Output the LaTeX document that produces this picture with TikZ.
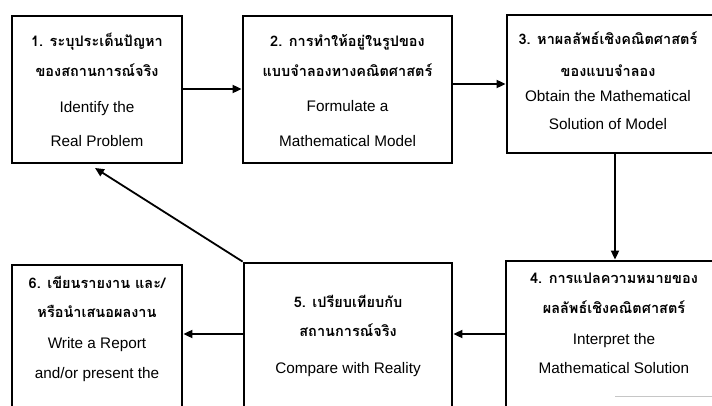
\documentclass[tikz,border=0pt]{standalone}
\usepackage{fontspec}
\setmainfont{Liberation Sans}
\newfontfamily\thaifont[Script=Thai]{Loma}
\usetikzlibrary{arrows.meta}

\begin{document}
\begin{tikzpicture}[x=1pt,y=-1pt,
  stage/.style={draw, line width=2.8pt, rectangle, inner sep=0pt},
  th/.style={anchor=base, inner sep=0pt, font=\thaifont\bfseries\fontsize{14.5}{16}\selectfont},
  en/.style={anchor=base, inner sep=0pt, font=\fontsize{15.3}{17}\selectfont},
  flow/.style={line width=1.8pt, -{Triangle[length=9pt,width=8pt]}}]
\useasboundingbox (0,0) rectangle (712,406);
\clip (0,0) rectangle (712,406);

% the six stages of the modelling cycle
\node[stage, minimum width=170, minimum height=147] (b1) at (97,89.5) {};
\node[stage, minimum width=209, minimum height=147] (b2) at (347.5,89.5) {};
\node[stage, minimum width=209, minimum height=138] (b3) at (611.5,84) {};
\node[stage, minimum width=214, minimum height=169] (b4) at (613,345.5) {};
\node[stage, minimum width=208, minimum height=167] (b5) at (348,346.5) {};
\node[stage, minimum width=170, minimum height=165] (b6) at (97,347.5) {};

% stage 1
\node[th] (l1a) at (97,47) {1. ระบุประเด็นปัญหา};
\node[th] (l1b) at (97,77) {ของสถานการณ์จริง};
\node[en] (l1c) at (97,113) {Identify the};
\node[en] (l1d) at (97,147) {Real Problem};
% stage 2
\node[th] (l2a) at (347.5,47) {2. การทำให้อยู่ในรูปของ};
\node[th] (l2b) at (347.5,77) {แบบจำลองทางคณิตศาสตร์};
\node[en] (l2c) at (347.5,112) {Formulate a};
\node[en] (l2d) at (347.5,147) {Mathematical Model};
% stage 3
\node[th] (l3a) at (608,45) {3. หาผลลัพธ์เชิงคณิตศาสตร์};
\node[th] (l3b) at (608,77) {ของแบบจำลอง};
\node[en] (l3c) at (608,102) {Obtain the Mathematical};
\node[en] (l3d) at (608,130) {Solution of Model};
% stage 4
\node[th] (l4a) at (614,283) {4. การแปลความหมายของ};
\node[th] (l4b) at (614,313) {ผลลัพธ์เชิงคณิตศาสตร์};
\node[en] (l4c) at (614,344) {Interpret the};
\node[en] (l4d) at (614,373) {Mathematical Solution};
% stage 5
\node[th] (l5a) at (348,307) {5. เปรียบเทียบกับ};
\node[th] (l5b) at (348,336) {สถานการณ์จริง};
\node[en] (l5c) at (348,373) {Compare with Reality};
% stage 6
\node[th] (l6a) at (97,288) {6. เขียนรายงาน และ/};
\node[th] (l6b) at (97,317) {หรือนำเสนอผลงาน};
\node[en] (l6c) at (97,348) {Write a Report};
\node[en] (l6d) at (97,378) {and/or present the};

% helper positions for the connectors
\coordinate (top) at (0,89);
\coordinate (down) at (615,0);
\coordinate (row) at (0,334);
\coordinate (back) at (95,168);

\draw[flow] (b1.east |- top) -- (b2.west |- top);
\draw[flow] (b2.east |- b3.west) -- (b3.west);
\draw[flow] (b3.south -| down) -- (b4.north -| down);
\draw[flow] (b4.west |- row) -- (b5.east |- row);
\draw[flow] (b5.west |- row) -- (b6.east |- row);
\draw[flow] (b5.north west) -- (back);

% faint scan line near the bottom edge
\draw[gray!45, line width=1pt] (615,396) -- (712,396);
\end{tikzpicture}
\end{document}
